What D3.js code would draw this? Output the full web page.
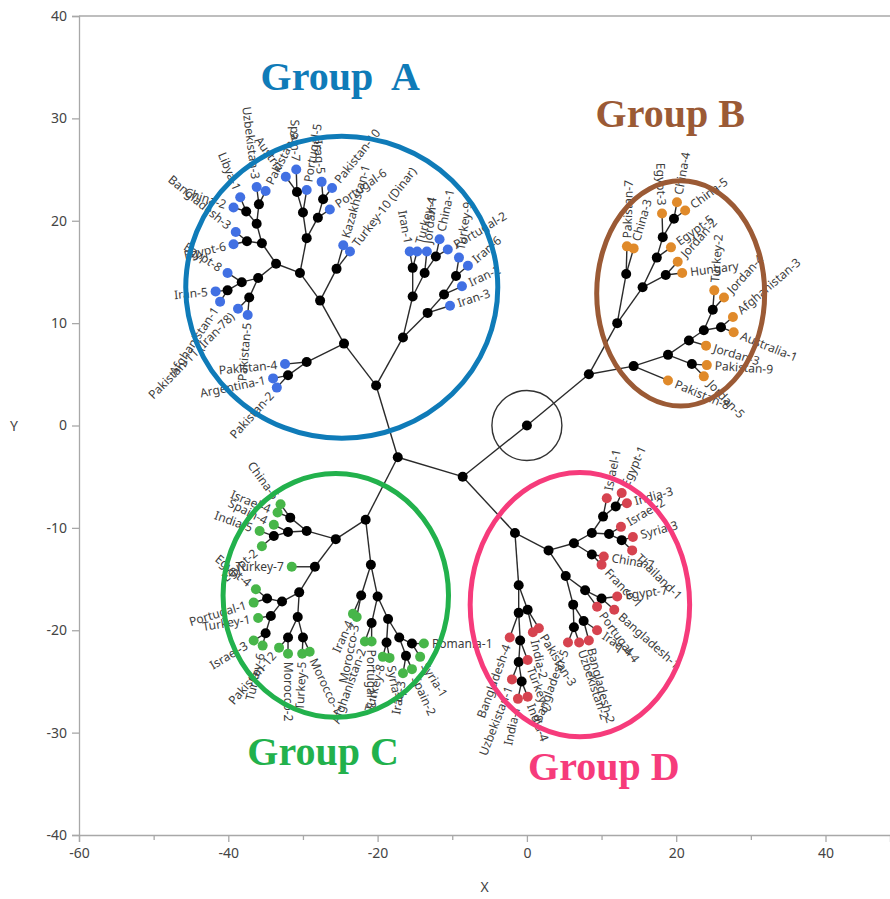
<!DOCTYPE html>
<html>
<head>
<meta charset="utf-8">
<script src="https://cdn.jsdelivr.net/npm/d3@7"></script>
<style>
body { margin: 0; background: #fff; }
</style>
</head>
<body>
<div id="svg"></div>
<script>
// internal nodes of the constellation: [id, parent, X, Y]
var joints = [
    ["r", null, 0, 0],
    ["k1", "r", -8.6, -5.0],
    ["k2", "k1", -17.3, -3.1],
    ["b0", "r", 8.3, 5.0],
    ["a0", "k2", -20.2, 3.9],
    ["c0", "k2", -21.6, -9.2],
    ["d0", "k1", -1.6, -10.5],
    // group A
    ["a1", "a0", -24.5, 8.0],
    ["a2", "a0", -16.6, 8.6],
    ["a3", "a1", -29.5, 6.2],
    ["a3a", "a3", -32.0, 4.9],
    ["a4", "a1", -27.7, 12.2],
    ["a5", "a4", -30.4, 14.9],
    ["a6", "a4", -25.5, 15.3],
    ["a7", "a5", -29.5, 18.3],
    ["a8", "a7", -30.0, 20.8],
    ["a9", "a8", -30.8, 22.8],
    ["a10", "a7", -28.0, 20.3],
    ["a11", "a10", -27.3, 22.1],
    ["a12", "a5", -33.6, 15.8],
    ["a13", "a12", -35.5, 17.8],
    ["a14", "a13", -36.2, 19.7],
    ["a15", "a14", -35.9, 21.6],
    ["a16", "a14", -37.6, 20.9],
    ["a17", "a13", -37.5, 18.0],
    ["a18", "a12", -36.0, 14.4],
    ["a19", "a18", -38.2, 14.0],
    ["a20", "a19", -40.1, 13.2],
    ["a21", "a18", -37.2, 12.5],
    ["a22", "a2", -15.3, 12.6],
    ["a23", "a22", -15.3, 15.4],
    ["a24", "a22", -13.7, 14.9],
    ["a25", "a24", -12.2, 16.5],
    ["a26", "a2", -13.3, 11.0],
    ["a27", "a26", -11.1, 12.8],
    ["a28", "a27", -9.5, 14.6],
    // group B
    ["b1", "b0", 12.1, 10.0],
    ["b2", "b0", 14.3, 5.8],
    ["b3", "b1", 13.3, 14.8],
    ["b4", "b1", 15.5, 13.5],
    ["b5", "b4", 17.4, 16.4],
    ["b6", "b5", 18.2, 18.4],
    ["b7", "b6", 19.7, 20.2],
    ["b8", "b4", 18.6, 14.7],
    ["b9", "b2", 18.9, 6.9],
    ["b10", "b9", 21.7, 8.3],
    ["b11", "b9", 22.1, 6.0],
    ["b12", "b10", 23.7, 9.3],
    ["b13", "b12", 24.9, 11.3],
    ["b14", "b12", 26.0, 9.6],
    // group C
    ["c1", "c0", -25.6, -11.1],
    ["c2", "c0", -20.9, -13.6],
    ["c3", "c1", -29.5, -10.3],
    ["c4", "c1", -28.4, -13.8],
    ["c5", "c3", -31.7, -9.0],
    ["c6", "c3", -32.0, -10.4],
    ["c7", "c6", -33.9, -10.8],
    ["c8", "c4", -30.5, -16.3],
    ["c9", "c8", -32.8, -17.2],
    ["c10", "c9", -34.8, -16.9],
    ["c11", "c9", -34.3, -18.6],
    ["c12", "c11", -35.0, -20.3],
    ["c13", "c8", -30.7, -18.7],
    ["c14", "c13", -32.0, -20.7],
    ["c15", "c13", -30.0, -20.7],
    ["c16", "c2", -22.2, -16.6],
    ["c17", "c2", -20.0, -16.7],
    ["c18", "c17", -20.8, -19.3],
    ["c19", "c17", -18.6, -18.9],
    ["c20", "c19", -18.8, -21.2],
    ["c21", "c19", -17.1, -20.7],
    ["c22", "c21", -15.4, -21.3],
    ["c23", "c21", -16.2, -22.5],
    // group D
    ["d1", "d0", 2.9, -12.2],
    ["d2", "d0", -1.1, -15.6],
    ["d3", "d1", 6.3, -11.5],
    ["d4", "d1", 5.2, -14.7],
    ["d5", "d3", 8.7, -10.5],
    ["d6", "d5", 10.2, -8.9],
    ["d7", "d6", 11.9, -7.9],
    ["d8", "d5", 11.0, -10.6],
    ["d9", "d8", 12.7, -11.2],
    ["d10", "d3", 8.7, -12.6],
    ["d11", "d4", 7.8, -16.1],
    ["d12", "d11", 10.0, -16.9],
    ["d13", "d4", 6.2, -17.5],
    ["d14", "d13", 7.6, -19.1],
    ["d15", "d13", 6.3, -19.7],
    ["d16", "d2", -1.1, -18.3],
    ["d17", "d2", 0.1, -18.0],
    ["d18", "d16", -0.9, -21.0],
    ["d19", "d18", -1.1, -23.1],
    ["d20", "d19", -0.7, -25.0]
];

// leaves: [label, parent, X, Y]
var leavesA = [
    ["Spain-7", "a9", -30.9, 25.0],
    ["Austria", "a9", -32.3, 24.3],
    ["Portugal-5", "a8", -29.5, 23.0],
    ["Iraq-5", "a11", -27.5, 23.8],
    ["Pakistan-10", "a11", -26.1, 23.2],
    ["Portugal-6", "a10", -26.4, 21.1],
    ["Kazakhstan-1", "a6", -24.6, 17.6],
    ["Turkey-10 (Dinar)", "a6", -23.7, 17.0],
    ["Uzbekistan-3", "a15", -36.2, 23.3],
    ["Pakistan-6", "a15", -35.0, 22.9],
    ["Libya-1", "a16", -38.4, 22.3],
    ["China-2", "a16", -39.3, 21.3],
    ["Bangladesh-3", "a17", -39.0, 18.9],
    ["Egypt-6", "a17", -39.3, 17.7],
    ["Egypt-8", "a19", -40.1, 14.9],
    ["Iran-5", "a20", -41.7, 13.1],
    ["Afghanistan-1", "a20", -41.1, 12.1],
    ["Pakistan-11 (Iran-78)", "a21", -38.7, 11.4],
    ["Pakistan-5", "a21", -37.4, 10.8],
    ["Pakistan-4", "a3", -32.4, 6.0],
    ["Argentina-1", "a3a", -34.0, 4.6],
    ["Pakistan-2", "a3a", -33.5, 3.7],
    ["Iran-1", "a23", -15.7, 17.0],
    ["Turkey-4", "a23", -14.7, 17.0],
    ["Jordan-1", "a24", -13.4, 17.0],
    ["China-1", "a25", -11.7, 18.2],
    ["Portugal-2", "a25", -10.6, 17.2],
    ["Turkey-9", "a28", -9.1, 16.4],
    ["Iran-6", "a28", -7.9, 15.6],
    ["Iran-2", "a27", -8.7, 13.6],
    ["Iran-3", "a26", -10.3, 11.7]
];
var leavesB = [
    ["Pakistan-7", "b3", 13.4, 17.5],
    ["China-3", "b3", 14.3, 17.3],
    ["Egypt-3", "b6", 18.1, 20.7],
    ["China-4", "b7", 20.1, 21.8],
    ["China-5", "b7", 21.2, 21.0],
    ["Egypt-5", "b5", 19.3, 17.4],
    ["Jordan-2", "b8", 20.2, 16.0],
    ["Hungary", "b8", 20.8, 14.9],
    ["Turkey-2", "b13", 25.1, 13.2],
    ["Jordan-4", "b13", 26.4, 12.5],
    ["Afghanistan-3", "b14", 27.6, 10.6],
    ["Australia-1", "b14", 27.7, 9.1],
    ["Jordan-3", "b10", 24.0, 7.8],
    ["Pakistan-9", "b11", 24.1, 5.9],
    ["Jordan-5", "b11", 23.7, 4.8],
    ["Pakistan-8", "b2", 18.9, 4.4]
];
var leavesC = [
    ["China-6", "c5", -33.0, -7.7],
    ["Israel-4", "c5", -33.4, -8.5],
    ["Spain-4", "c6", -33.9, -9.7],
    ["India-5", "c7", -35.8, -10.3],
    ["Egypt-2", "c7", -35.5, -11.8],
    ["Turkey-7", "c4", -31.5, -13.8],
    ["Egypt-4", "c10", -36.3, -16.0],
    ["Portugal-1", "c10", -36.6, -17.3],
    ["Turkey-1", "c11", -36.0, -18.8],
    ["Israel-3", "c12", -36.6, -21.0],
    ["Turkey-6", "c12", -35.4, -21.5],
    ["Pakistan-12", "c14", -33.2, -21.7],
    ["Morocco-2", "c14", -32.0, -22.3],
    ["Turkey-5", "c15", -30.1, -22.3],
    ["Morocco-1", "c15", -29.1, -22.1],
    ["Iran-4", "c16", -23.3, -18.4],
    ["Morocco-3", "c16", -22.8, -18.7],
    ["Afghanistan-2", "c18", -21.7, -21.1],
    ["Portugal-3", "c18", -20.8, -21.1],
    ["Turkey-8", "c20", -19.3, -22.6],
    ["Syria-2", "c20", -18.4, -22.7],
    ["Iraq-3", "c23", -16.6, -24.2],
    ["Spain-2", "c23", -15.4, -23.8],
    ["Syria-1", "c22", -14.3, -22.6],
    ["Romania-1", "c22", -13.8, -21.3]
];
var leavesD = [
    ["Israel-1", "d6", 10.7, -7.1],
    ["Egypt-1", "d7", 12.7, -6.6],
    ["India-3", "d7", 13.4, -7.6],
    ["Israel-2", "d8", 12.6, -9.9],
    ["Syria-3", "d9", 14.2, -10.9],
    ["Thailand-1", "d9", 14.1, -12.2],
    ["China-7", "d10", 10.3, -12.8],
    ["France-1", "d10", 10.0, -13.6],
    ["Egypt-7", "d12", 12.1, -16.7],
    ["Bangladesh-1", "d12", 11.7, -18.0],
    ["Portugal-4", "d11", 9.4, -17.7],
    ["Iraq-4", "d14", 9.4, -20.0],
    ["Bangladesh-2", "d14", 8.3, -21.0],
    ["Uzbekistan-2", "d15", 7.0, -21.2],
    ["Bangladesh-5", "d15", 5.5, -21.2],
    ["Pakistan-3", "d17", 1.6, -19.8],
    ["India-2", "d17", 0.8, -20.2],
    ["Bangladesh-4", "d16", -2.3, -20.7],
    ["Turkey-3", "d18", 0.1, -22.9],
    ["Uzbekistan-1", "d19", -2.0, -24.8],
    ["India-1", "d20", -1.2, -26.7],
    ["India-4", "d20", 0.1, -26.5]
];

var xTicks = [-60, -40, -20, 0, 20, 40];
var xMinorTicks = [-50, -30, -10, 10, 30];
var yTicks = [-40, -30, -20, -10, 0, 10, 20, 30, 40];

// group annotations: name, centre X, centre Y, radius X, radius Y, label X, label Y
var groupNames = ["Group  A", "Group B", "Group C", "Group D"];
var groupCentres = [[-24.8, 13.5], [20.6, 12.9], [-25.6, -16.6], [7.1, -17.5]];
var groupRadii = [[20.9, 14.75], [11.25, 11.0], [15.1, 11.9], [14.7, 12.9]];
var groupLabelAt = [[-25.0, 32.8], [19.2, 29.2], [-27.3, -33.2], [10.3, -34.6]];

var svgWidth = 890, svgHeight = 899;
var leafColours = ["#4170e3", "#e08a2a", "#47b649", "#d6434f"];
var groupColours = ["#0f7bb8", "#9b5a35", "#22b14c", "#f63b7b"];
var axisColour = "#a8a8a8";
var labelColour = "#3c3c3c";

var divDOM = d3.select("body").select("div#svg");
var svg = divDOM.append("svg").attr("width", svgWidth).attr("height", svgHeight);

var x = d3.scaleLinear().domain([-60, 48.64]).range([79, 890]);
var y = d3.scaleLinear().domain([-40, 40]).range([835, 16]);

//axes
var xAxis = svg.append("g").attr("transform", "translate(0," + y(-40) + ")")
    .call(d3.axisBottom(x).tickValues(xTicks).tickSize(7).tickPadding(6).tickFormat(function(d) { return String(d); }));
svg.append("g").attr("transform", "translate(0," + y(-40) + ")")
    .call(d3.axisBottom(x).tickValues(xMinorTicks).tickSize(5).tickFormat(""))
    .select(".domain").remove();
var yAxis = svg.append("g").attr("transform", "translate(" + x(-60) + ",0)")
    .call(d3.axisLeft(y).tickValues(yTicks).tickSize(7).tickPadding(5).tickFormat(function(d) { return String(d); }));
svg.selectAll(".domain, .tick line").attr("stroke", axisColour).attr("stroke-width", 1.3);
svg.selectAll(".tick text").attr("fill", "#444").attr("font-size", 14).attr("font-family", "'Noto Sans', sans-serif");
svg.append("line")
    .attr("x1", x(-60)).attr("x2", svgWidth).attr("y1", y(40)).attr("y2", y(40))
    .attr("stroke", axisColour).attr("stroke-width", 1.3);
svg.append("text").text("X")
    .attr("x", (x(-60) + svgWidth) / 2).attr("y", 892)
    .attr("text-anchor", "middle").attr("font-size", 14).attr("fill", "#444")
    .attr("font-family", "'Noto Sans', sans-serif");
svg.append("text").text("Y")
    .attr("x", 14).attr("y", y(0) + 5)
    .attr("text-anchor", "middle").attr("font-size", 14).attr("fill", "#444")
    .attr("font-family", "'Noto Sans', sans-serif");

//node positions in pixels
var pos = {};
joints.forEach(function(j) { pos[j[0]] = [x(j[2]), y(j[3])]; });

var leafSets = [leavesA, leavesB, leavesC, leavesD];
var plotArea = svg.append("g");

//branches
joints.forEach(function(j) {
    if (j[1] === null) return;
    plotArea.append("line")
        .attr("x1", pos[j[1]][0]).attr("y1", pos[j[1]][1])
        .attr("x2", pos[j[0]][0]).attr("y2", pos[j[0]][1])
        .attr("stroke", "#2a2a2a").attr("stroke-width", 1.4);
});
leafSets.forEach(function(set) {
    set.forEach(function(l) {
        plotArea.append("line")
            .attr("x1", pos[l[1]][0]).attr("y1", pos[l[1]][1])
            .attr("x2", x(l[2])).attr("y2", y(l[3]))
            .attr("stroke", "#2a2a2a").attr("stroke-width", 1.4);
    });
});

//root marker
plotArea.append("circle")
    .attr("cx", pos["r"][0]).attr("cy", pos["r"][1]).attr("r", 35)
    .attr("fill", "none").attr("stroke", "#333").attr("stroke-width", 1.4);

//internal points
joints.forEach(function(j) {
    plotArea.append("circle")
        .attr("cx", pos[j[0]][0]).attr("cy", pos[j[0]][1]).attr("r", 5)
        .attr("fill", "#000");
});

//leaves and labels
leafSets.forEach(function(set, gi) {
    set.forEach(function(l) {
        var lx = x(l[2]), ly = y(l[3]);
        var dx = lx - pos[l[1]][0], dy = ly - pos[l[1]][1];
        var angle = Math.atan2(dy, dx) * 180 / Math.PI;
        var left = dx < 0;
        plotArea.append("circle")
            .attr("cx", lx).attr("cy", ly).attr("r", 5)
            .attr("fill", leafColours[gi]);
        plotArea.append("text")
            .text(l[0])
            .attr("transform", "translate(" + lx + "," + ly + ") rotate(" + (left ? angle + 180 : angle) + ")")
            .attr("x", left ? -8 : 8)
            .attr("dy", "0.35em")
            .attr("text-anchor", left ? "end" : "start")
            .attr("font-family", "'Noto Sans', sans-serif")
            .attr("font-size", 12)
            .attr("fill", labelColour);
    });
});

//group outlines
var groupLayer = svg.append("g");
groupNames.forEach(function(name, i) {
    var c = groupCentres[i], rad = groupRadii[i];
    groupLayer.append("ellipse")
        .attr("cx", x(c[0])).attr("cy", y(c[1]))
        .attr("rx", x(c[0] + rad[0]) - x(c[0]))
        .attr("ry", y(c[1]) - y(c[1] + rad[1]))
        .attr("fill", "none")
        .attr("stroke", groupColours[i]).attr("stroke-width", 5);
    groupLayer.append("text")
        .text(name)
        .attr("x", x(groupLabelAt[i][0])).attr("y", y(groupLabelAt[i][1]))
        .attr("text-anchor", "middle")
        .attr("font-family", "'Liberation Serif', serif")
        .attr("font-weight", "bold")
        .attr("font-size", 40)
        .attr("fill", groupColours[i])
        .style("white-space", "pre");
});
</script>
</body>
</html>
